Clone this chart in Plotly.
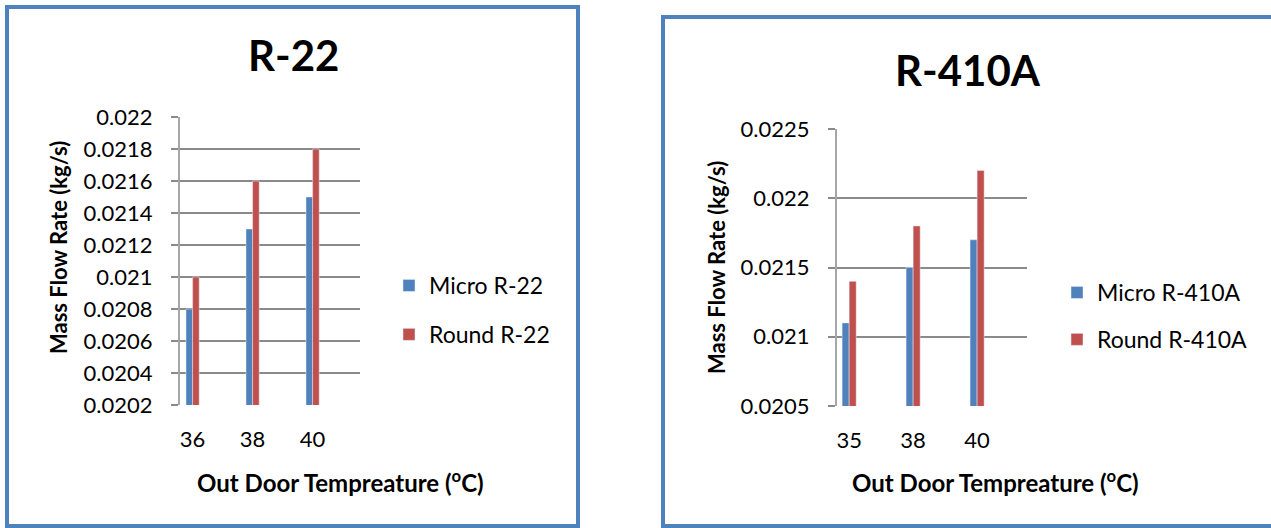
import plotly.graph_objects as go

W, H = 1271, 528

# ---- data ----
r22_temps = ["36", "38", "40"]
r22_micro = [0.0208, 0.0213, 0.0215]
r22_round = [0.0210, 0.0216, 0.0218]
r22_yticks = [0.0202, 0.0204, 0.0206, 0.0208, 0.0210, 0.0212, 0.0214, 0.0216, 0.0218, 0.0220]
r22_yticklabels = ["0.0202", "0.0204", "0.0206", "0.0208", "0.021", "0.0212",
                   "0.0214", "0.0216", "0.0218", "0.022"]

r410_temps = ["35", "38", "40"]
r410_micro = [0.0211, 0.0215, 0.0217]
r410_round = [0.0214, 0.0218, 0.0222]
r410_yticks = [0.0205, 0.0210, 0.0215, 0.0220, 0.0225]
r410_yticklabels = ["0.0205", "0.021", "0.0215", "0.022", "0.0225"]

BLUE = "#4F81BD"
RED = "#C0504D"
GRID = "#8A8A8A"
FONT = "Lato, 'Open Sans', sans-serif"

def px_x(x):
    return x / W

def px_y(y):
    return (H - y) / H

pos = [0, 1, 2]
BW = 0.11

fig = go.Figure()

fig.add_trace(go.Bar(x=pos, y=r22_micro, name="Micro R-22", marker_color=BLUE,
                     width=BW, offset=-BW, xaxis="x", yaxis="y",
                     legend="legend", legendgroup="a"))
fig.add_trace(go.Bar(x=pos, y=r22_round, name="Round R-22", marker_color=RED,
                     width=BW, offset=0, xaxis="x", yaxis="y",
                     legend="legend", legendgroup="b"))
fig.add_trace(go.Bar(x=pos, y=r410_micro, name="Micro R-410A", marker_color=BLUE,
                     width=BW, offset=-BW, xaxis="x2", yaxis="y2",
                     legend="legend2", legendgroup="c"))
fig.add_trace(go.Bar(x=pos, y=r410_round, name="Round R-410A", marker_color=RED,
                     width=BW, offset=0, xaxis="x2", yaxis="y2",
                     legend="legend2", legendgroup="d"))

xcommon = dict(showgrid=False, zeroline=False, showline=False, ticks="",
               tickfont=dict(family=FONT, size=22, color="#000"),
               ticklabelstandoff=19, tickvals=pos, automargin=False)
ycommon = dict(showgrid=True, gridcolor=GRID, gridwidth=2, zeroline=False,
               showline=True, linecolor="#A6A6A6", linewidth=2,
               ticks="outside", ticklen=7, tickwidth=2, tickcolor=GRID,
               tickfont=dict(family=FONT, size=22, color="#000"),
               ticklabelstandoff=14, automargin=False)

fig.update_layout(
    width=W, height=H,
    margin=dict(l=0, r=0, t=0, b=0, pad=0, autoexpand=False),
    paper_bgcolor="white", plot_bgcolor="white",
    xaxis=dict(domain=[px_x(180), px_x(360)], range=[-0.21, 2.79],
               ticktext=r22_temps, anchor="y", **xcommon),
    yaxis=dict(domain=[px_y(405), px_y(117)], range=[0.0202, 0.0220],
               tickvals=r22_yticks, ticktext=r22_yticklabels, anchor="x", **ycommon),
    xaxis2=dict(domain=[px_x(837), px_x(1027)], range=[-0.19, 2.78],
                ticktext=r410_temps, anchor="y2", **xcommon),
    yaxis2=dict(domain=[px_y(406), px_y(129)], range=[0.0205, 0.0225],
                tickvals=r410_yticks, ticktext=r410_yticklabels, anchor="x2", **ycommon),
    legend=dict(x=px_x(389), y=px_y(310), xanchor="left", yanchor="middle",
                font=dict(family=FONT, size=23, color="#000"),
                tracegroupgap=16, traceorder="grouped", bgcolor="rgba(0,0,0,0)"),
    legend2=dict(x=px_x(1057), y=px_y(316), xanchor="left", yanchor="middle",
                 font=dict(family=FONT, size=23, color="#000"),
                 tracegroupgap=14, traceorder="grouped", bgcolor="rgba(0,0,0,0)"),
    showlegend=True,
)

annots = [
    dict(text="<b>R-22</b>", x=px_x(293), y=px_y(55), size=42, angle=0),
    dict(text="<b>R-410A</b>", x=px_x(968), y=px_y(70), size=42, angle=0),
    dict(text="<b>Mass Flow Rate (kg/s)</b>", x=px_x(58), y=px_y(248), size=22, angle=-90),
    dict(text="<b>Mass Flow Rate (kg/s)</b>", x=px_x(716), y=px_y(268), size=22, angle=-90),
    dict(text="<b>Out Door Tempreature (<sup>o</sup>C)</b>", x=px_x(340), y=px_y(481), size=24, angle=0),
    dict(text="<b>Out Door Tempreature (<sup>o</sup>C)</b>", x=px_x(995), y=px_y(481), size=24, angle=0),
]
for a in annots:
    fig.add_annotation(text=a["text"], x=a["x"], y=a["y"], xref="paper", yref="paper",
                       xanchor="center", yanchor="middle", showarrow=False,
                       textangle=a["angle"],
                       font=dict(family=FONT, size=a["size"], color="#000"))

# panel borders
fig.add_shape(type="rect", xref="paper", yref="paper",
              x0=px_x(7), x1=px_x(578), y0=px_y(526), y1=px_y(7),
              line=dict(color=BLUE, width=4), fillcolor="rgba(0,0,0,0)", layer="below")
fig.add_shape(type="rect", xref="paper", yref="paper",
              x0=px_x(663), x1=px_x(1290), y0=px_y(526), y1=px_y(17),
              line=dict(color=BLUE, width=4), fillcolor="rgba(0,0,0,0)", layer="below")

fig.write_html("out.html", config={"displayModeBar": False},
               post_script="document.body.style.margin='0';document.body.style.overflow='hidden';")
